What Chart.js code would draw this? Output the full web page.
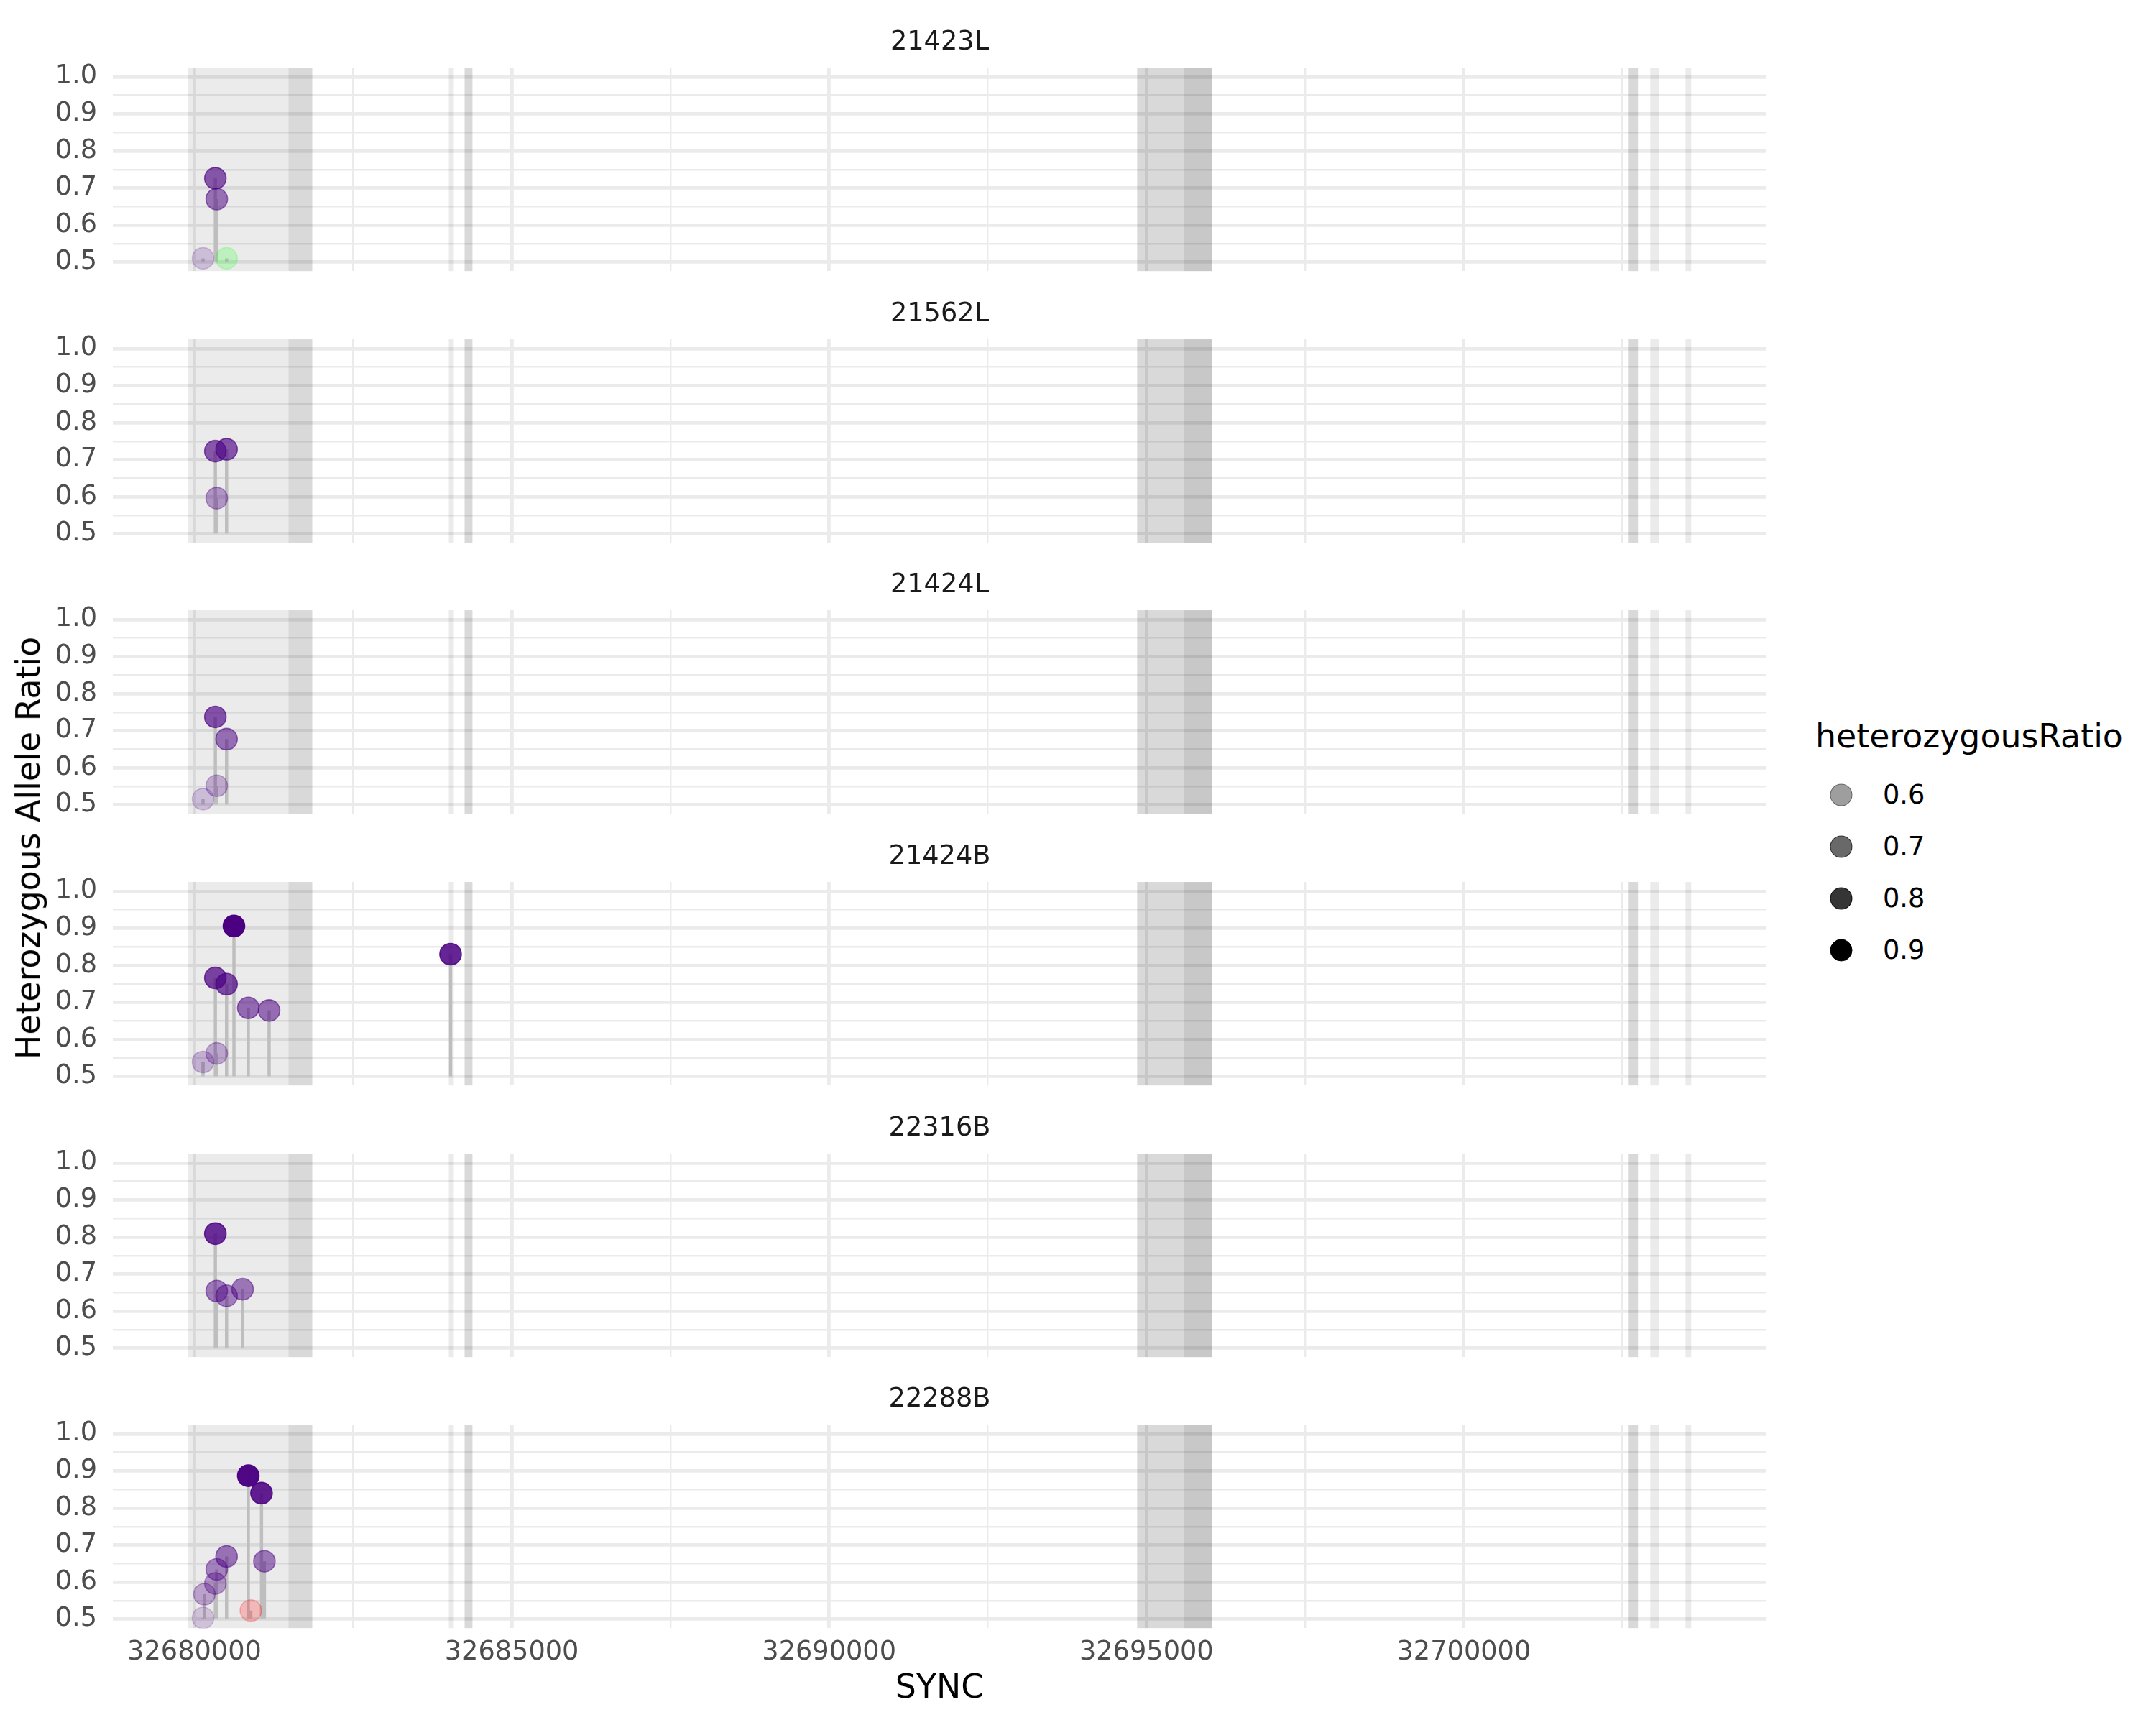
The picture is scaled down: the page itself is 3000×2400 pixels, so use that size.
<!DOCTYPE html>
<html>
<head>
<meta charset="utf-8">
<script src="https://cdn.jsdelivr.net/npm/chart.js@4.4.1/dist/chart.umd.min.js"></script>
<style>
  html, body { margin: 0; padding: 0; background: #ffffff; overflow: hidden; }
  #root { position: relative; width: 3000px; height: 2400px; font-family: 'DejaVu Sans', sans-serif; }
  #root canvas { position: absolute; left: 0; }
  .ytitle { position: absolute; left: 40px; top: 1180px; transform: translate(-50%, -50%) rotate(-90deg);
            font-size: 45.8px; line-height: 1; white-space: nowrap; color: #000; }
  .legtitle { position: absolute; left: 2526px; top: 1025px; transform: translateY(-50%);
              font-size: 45.8px; line-height: 1; white-space: nowrap; color: #000; }
  .legkey { position: absolute; width: 31px; height: 31px; border-radius: 50%; box-sizing: border-box;
            transform: translate(-50%, -50%); }
  .leglab { position: absolute; transform: translateY(-50%); font-size: 36.7px; line-height: 1; color: #000; white-space: nowrap; }
</style>
</head>
<body>
<div id="root"></div>
<script>
// ---------------- data ----------------
const samples = ['21423L', '21562L', '21424L', '21424B', '22316B', '22288B'];

const pos21423L   = [32680136, 32680330, 32680352, 32680507];
const ratio21423L = [0.510, 0.726, 0.670, 0.510];
const group21423L = ['g1', 'g1', 'g1', 'g2'];

const pos21562L   = [32680330, 32680507, 32680352];
const ratio21562L = [0.723, 0.728, 0.596];
const group21562L = ['g1', 'g1', 'g1'];

const pos21424L   = [32680136, 32680352, 32680330, 32680507];
const ratio21424L = [0.515, 0.551, 0.737, 0.677];
const group21424L = ['g1', 'g1', 'g1', 'g1'];

const pos21424B   = [32680136, 32680352, 32680330, 32680507, 32680623, 32680849, 32681177, 32684036];
const ratio21424B = [0.539, 0.562, 0.766, 0.749, 0.906, 0.685, 0.678, 0.830];
const group21424B = ['g1', 'g1', 'g1', 'g1', 'g1', 'g1', 'g1', 'g1'];

const pos22316B   = [32680330, 32680352, 32680507, 32680759];
const ratio22316B = [0.809, 0.654, 0.641, 0.659];
const group22316B = ['g1', 'g1', 'g1', 'g1'];

const pos22288B   = [32680136, 32680158, 32680330, 32680352, 32680507, 32680849, 32680889, 32681057, 32681103];
const ratio22288B = [0.503, 0.567, 0.596, 0.634, 0.669, 0.887, 0.523, 0.840, 0.656];
const group22288B = ['g1', 'g1', 'g1', 'g1', 'g1', 'g1', 'g3', 'g1', 'g1'];

// gene feature intervals (grey shaded regions)
const featureStart = [32679898, 32681483, 32684008, 32684257, 32684257, 32694853, 32694853, 32695589, 32702597, 32702597, 32702937, 32703492];
const featureEnd   = [32681857, 32681857, 32684087, 32684381, 32684381, 32696031, 32696031, 32696031, 32702744, 32702744, 32703072, 32703582];

const stickBase = 0.5;

// axes
const xMin = 32678715, xMax = 32704768;
const yMin = 0.475, yMax = 1.025;
const xMajorTicks = [32680000, 32685000, 32690000, 32695000, 32700000];
const xMajorLabels = ['32680000', '32685000', '32690000', '32695000', '32700000'];
const xMinorTicks = [32682500, 32687500, 32692500, 32697500, 32702500];
const yMajorTicks = [0.5, 0.6, 0.7, 0.8, 0.9, 1.0];
const yMajorLabels = ['0.5', '0.6', '0.7', '0.8', '0.9', '1.0'];
const yMinorTicks = [0.55, 0.65, 0.75, 0.85, 0.95];

const legendBreaks = [0.6, 0.7, 0.8, 0.9];
const legendLabels = ['0.6', '0.7', '0.8', '0.9'];

// ---------------- styling ----------------
const panelTable = [
  { name: samples[0], pos: pos21423L, ratio: ratio21423L, group: group21423L },
  { name: samples[1], pos: pos21562L, ratio: ratio21562L, group: group21562L },
  { name: samples[2], pos: pos21424L, ratio: ratio21424L, group: group21424L },
  { name: samples[3], pos: pos21424B, ratio: ratio21424B, group: group21424B },
  { name: samples[4], pos: pos22316B, ratio: ratio22316B, group: group22316B },
  { name: samples[5], pos: pos22288B, ratio: ratio22288B, group: group22288B },
];
const groupRGB = { g1: '75,0,130', g2: '0,255,0', g3: '255,0,0' };
function alphaOf(v) { return Math.min(1, Math.max(0.1, 0.38 + 2.07 * (v - 0.6))); }
function rgbaOf(g, v) { return 'rgba(' + groupRGB[g] + ',' + alphaOf(v).toFixed(3) + ')'; }

const GRID = '#ebebeb';
const FONT = "'DejaVu Sans', sans-serif";
Chart.defaults.font.family = FONT;
Chart.defaults.animation = false;

const yTickValues = yMajorTicks.concat(yMinorTicks).sort((a, b) => a - b);
const xTickValues = xMajorTicks.concat(xMinorTicks).sort((a, b) => a - b);

const featurePlugin = {
  id: 'featureRects',
  beforeDatasetsDraw(chart) {
    const { ctx, chartArea, scales } = chart;
    const x = scales.x;
    ctx.save();
    ctx.beginPath();
    ctx.rect(chartArea.left, chartArea.top, chartArea.right - chartArea.left, chartArea.bottom - chartArea.top);
    ctx.clip();
    ctx.fillStyle = 'rgba(0,0,0,0.08)';
    for (let i = 0; i < featureStart.length; i++) {
      const x0 = x.getPixelForValue(featureStart[i]);
      const x1 = x.getPixelForValue(featureEnd[i]);
      ctx.fillRect(x0, chartArea.top, x1 - x0, chartArea.bottom - chartArea.top);
    }
    ctx.restore();
  }
};

// ---------------- layout ----------------
const root = document.getElementById('root');
const CANVAS_W = 2480;
const AREA_LEFT = 157, AREA_RIGHT = 2458;
const FIRST_TOP = 94.3, PANEL_STEP = 377.6, AREA_H = 283.4;
const STRIP_FONT = 36.7, STRIP_PAD_BOTTOM = 13;
const TITLE_H = STRIP_FONT * 1.2 + STRIP_PAD_BOTTOM;
const GAP_BELOW = 60;

panelTable.forEach((p, k) => {
  const isLast = k === panelTable.length - 1;
  const areaTop = FIRST_TOP + k * PANEL_STEP;
  const cssTop = areaTop - TITLE_H;
  const height = isLast ? Math.round(2400 - cssTop) : Math.round(TITLE_H + AREA_H + GAP_BELOW);
  const xAxisH = isLast ? (height - TITLE_H - AREA_H) : 0;
  const padBottom = isLast ? 0 : (height - TITLE_H - AREA_H);

  const cv = document.createElement('canvas');
  cv.width = CANVAS_W; cv.height = height;
  cv.style.width = CANVAS_W + 'px'; cv.style.height = height + 'px';
  cv.style.top = cssTop + 'px';
  root.appendChild(cv);

  const points = p.pos.map((x, i) => ({ x: x, y: p.ratio[i] }));
  const sticks = [];
  p.pos.forEach((x, i) => {
    sticks.push({ x: x, y: stickBase });
    sticks.push({ x: x, y: p.ratio[i] });
    sticks.push({ x: x, y: null });
  });

  new Chart(cv, {
    type: 'scatter',
    data: {
      datasets: [
        {
          label: 'ratio',
          data: points,
          order: 0,
          pointRadius: 15,
          pointHoverRadius: 15,
          pointBorderWidth: 1.6,
          pointBackgroundColor: ctx => rgbaOf(p.group[ctx.dataIndex], p.ratio[ctx.dataIndex]),
          pointBorderColor: ctx => rgbaOf(p.group[ctx.dataIndex], p.ratio[ctx.dataIndex]),
        },
        {
          label: 'stick',
          data: sticks,
          order: 1,
          showLine: true,
          spanGaps: false,
          pointRadius: 0,
          pointHoverRadius: 0,
          borderColor: '#bebebe',
          borderWidth: 4.5,
          borderCapStyle: 'butt',
        }
      ]
    },
    options: {
      responsive: false,
      animation: false,
      events: [],
      layout: { padding: { left: 0, right: CANVAS_W - AREA_RIGHT, top: 0, bottom: padBottom } },
      plugins: {
        legend: { display: false },
        tooltip: { enabled: false },
        title: {
          display: true,
          text: p.name,
          fullSize: false,
          color: '#1a1a1a',
          font: { size: STRIP_FONT, weight: 'normal', lineHeight: 1.2 },
          padding: { top: 0, bottom: STRIP_PAD_BOTTOM }
        }
      },
      scales: {
        x: {
          type: 'linear',
          min: xMin, max: xMax,
          afterBuildTicks: s => { s.ticks = xTickValues.map(v => ({ value: v })); },
          afterFit: s => { s.height = xAxisH; },
          grid: {
            color: GRID,
            drawTicks: false,
            lineWidth: c => (c.tick && xMajorTicks.indexOf(c.tick.value) >= 0) ? 4.8 : 2.4
          },
          border: { display: false },
          ticks: {
            display: isLast,
            autoSkip: false,
            maxRotation: 0,
            minRotation: 0,
            padding: 12,
            color: '#4d4d4d',
            font: { size: 36.7 },
            callback: v => { const i = xMajorTicks.indexOf(v); return i >= 0 ? xMajorLabels[i] : ''; }
          },
          title: {
            display: isLast,
            text: 'SYNC',
            color: '#000000',
            font: { size: 45.8, lineHeight: 1.2 },
            padding: { top: 0, bottom: 22.5 }
          }
        },
        y: {
          type: 'linear',
          min: yMin, max: yMax,
          afterBuildTicks: s => { s.ticks = yTickValues.map(v => ({ value: v })); },
          afterFit: s => { s.width = AREA_LEFT; },
          grid: {
            color: GRID,
            drawTicks: false,
            lineWidth: c => (c.tick && yMajorTicks.indexOf(c.tick.value) >= 0) ? 4.8 : 2.4
          },
          border: { display: false },
          ticks: {
            autoSkip: false,
            padding: 22,
            color: '#4d4d4d',
            font: { size: 36.7 },
            callback: v => { const i = yMajorTicks.indexOf(v); return i >= 0 ? yMajorLabels[i] : ''; }
          }
        }
      }
    },
    plugins: [featurePlugin]
  });
});

// shared y-axis title
const yt = document.createElement('div');
yt.className = 'ytitle';
yt.textContent = 'Heterozygous Allele Ratio';
root.appendChild(yt);

// alpha legend
const lt = document.createElement('div');
lt.className = 'legtitle';
lt.textContent = 'heterozygousRatio';
root.appendChild(lt);
legendBreaks.forEach((b, i) => {
  const cy = 1106 + i * 72;
  const key = document.createElement('div');
  key.className = 'legkey';
  const col = 'rgba(0,0,0,' + alphaOf(b).toFixed(3) + ')';
  key.style.background = col;
  key.style.border = '1.6px solid ' + col;
  key.style.left = '2562px';
  key.style.top = cy + 'px';
  root.appendChild(key);
  const lab = document.createElement('div');
  lab.className = 'leglab';
  lab.textContent = legendLabels[i];
  lab.style.left = '2620px';
  lab.style.top = cy + 'px';
  root.appendChild(lab);
});
</script>
</body>
</html>
